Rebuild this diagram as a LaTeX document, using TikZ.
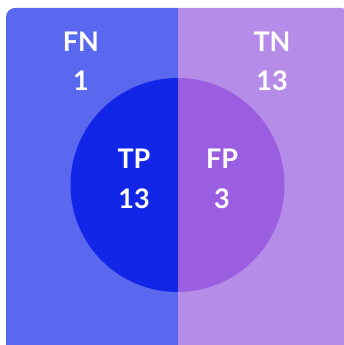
\documentclass[tikz,border=0pt]{standalone}
\usepackage{fontspec}
\setmainfont{Lato}
\definecolor{leftbg}{HTML}{5A67EF}
\definecolor{rightbg}{HTML}{B58DE9}
\definecolor{leftin}{HTML}{1226E8}
\definecolor{rightin}{HTML}{9B5EE0}
\tikzset{lab/.style={text=white,font=\fontsize{27}{30}\selectfont\bfseries,align=center,inner sep=0pt}}
\begin{document}
\begin{tikzpicture}[x=1pt,y=1pt]
\useasboundingbox (0,0) rectangle (344,345);
\clip (0,0) rectangle (344,345);
\fill[white] (0,0) rectangle (344,345);
\begin{scope}
\clip[rounded corners=9pt] (6,-10) rectangle (350,337);
\fill[leftbg] (0,-10) rectangle (178,345);
\fill[rightbg] (178,-10) rectangle (350,345);
\begin{scope}
\clip (177.5,160) circle (107);
\fill[leftin] (60,40) rectangle (178,280);
\fill[rightin] (178,40) rectangle (300,280);
\end{scope}
\end{scope}
\node[lab] (fn) at (81,303.5) {FN};
\node[lab] (fnv) at (81,264) {1};
\node[lab] (tn) at (272,303.5) {TN};
\node[lab] (tnv) at (272,264) {13};
\node[lab] (tp) at (134,186) {TP};
\node[lab] (tpv) at (134,146.5) {13};
\node[lab] (fp) at (222,186) {FP};
\node[lab] (fpv) at (222,146.5) {3};
\end{tikzpicture}
\end{document}
